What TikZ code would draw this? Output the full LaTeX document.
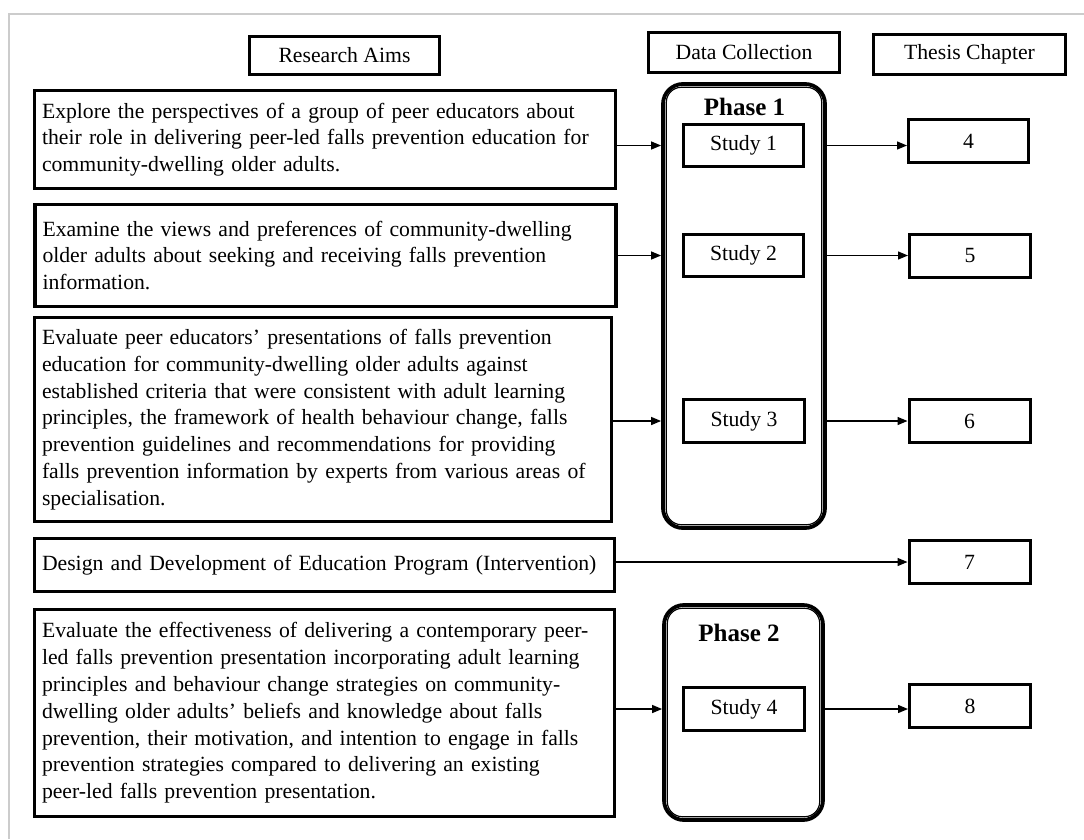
\documentclass[tikz,border=0pt]{standalone}
\usepackage{fontspec}
\setmainfont{Liberation Serif}
\usetikzlibrary{arrows.meta,calc}
\begin{document}
\begin{tikzpicture}[x=1pt,y=-1pt,
  every node/.style={font=\fontsize{21.7}{26.8}\selectfont},
  aim/.style={draw,line width=3.3pt,inner xsep=7.5pt,inner ysep=0pt,align=left,text width=566pt},
  hdr/.style={draw,line width=3pt,inner sep=0pt},
  studybox/.style={draw,line width=3pt,inner sep=0pt,minimum width=120pt,minimum height=42pt},
  chapbox/.style={draw,line width=3pt,inner sep=0pt,minimum width=121pt,minimum height=43pt},
  phasebox/.style={draw,line width=3.8pt,rounded corners=20pt,inner sep=0pt},
  phaseinner/.style={draw,line width=1.2pt,rounded corners=15pt},
  phaselabel/.style={font=\bfseries\fontsize{25}{30}\selectfont,inner sep=0pt},
  conn/.style={line width=1.3pt,-{Triangle[length=10pt,width=8pt]}}
]
\useasboundingbox (0,0) rectangle (1084,839);
% light frame
\coordinate (fbl) at (9,839);
\coordinate (ftl) at (9,14);
\coordinate (ftr) at (1084,14);
\draw[black!20,line width=1.5pt] (fbl) -- (ftl) -- (ftr);

% headers
\node[hdr,minimum width=190pt,minimum height=38pt] (RA) at (344.5,55.5) {Research Aims};
\node[hdr,minimum width=191pt,minimum height=40pt] (DC) at (744,52.5) {Data Collection};
\node[hdr,minimum width=192pt,minimum height=40pt] (TC) at (969.5,54.5) {Thesis Chapter};

% research aims
\node[aim,minimum height=98pt] (A1) at (325,139.5) {\makebox[\linewidth][s]{Explore the perspectives of a group of peer educators about}\\their role in delivering peer-led falls prevention education for\\community-dwelling older adults.};
\node[aim,minimum height=102pt] (A2) at (325.5,255.5) {Examine the views and preferences of community-dwelling\\older adults about seeking and receiving falls prevention\\information.};
\node[aim,text width=562pt,minimum height=204pt] (A3) at (323,419.5) {Evaluate peer educators’ presentations of falls prevention\\education for community-dwelling older adults against\\established criteria that were consistent with adult learning\\principles, the framework of health behaviour change, falls\\prevention guidelines and recommendations for providing\\falls prevention information by experts from various areas of\\specialisation.};
\node[aim,text width=565pt,minimum height=53pt] (A4) at (324.5,565) {\mbox{Design and Development of Education Program (Intervention)}};
\node[aim,text width=565pt,minimum height=207pt] (A5) at (324.5,713) {Evaluate the effectiveness of delivering a contemporary peer-\\led falls prevention presentation incorporating adult learning\\principles and behaviour change strategies on community-\\dwelling older adults’ beliefs and knowledge about falls\\prevention, their motivation, and intention to engage in falls\\prevention strategies compared to delivering an existing\\peer-led falls prevention presentation.};

% phases
\node[phasebox,minimum width=162pt,minimum height=444pt] (P1) at (744,306) {};
\draw[phaseinner] ($(P1.north west)+(5.2,5.2)$) rectangle ($(P1.south east)+(-5.2,-5.2)$);
\node[phaselabel] (P1L) at (744.5,107) {Phase 1};
\node[phasebox,minimum width=159pt,minimum height=215pt] (P2) at (743.5,712.5) {};
\draw[phaseinner] ($(P2.north west)+(5.2,5.2)$) rectangle ($(P2.south east)+(-5.2,-5.2)$);
\node[phaselabel] (P2L) at (739,633) {Phase 2};

% studies
\node[studybox] (S1) at (743.5,145.5) {Study 1};
\node[studybox] (S2) at (743.5,255.5) {Study 2};
\node[studybox,minimum width=121pt,minimum height=43pt] (S3) at (744,421) {Study 3};
\node[studybox,minimum width=121pt,minimum height=43pt] (S4) at (744,709) {Study 4};

% chapters
\node[chapbox,minimum width=120pt] (C4) at (968.5,141) {4};
\node[chapbox] (C5) at (970,255.5) {5};
\node[chapbox] (C6) at (969.5,421) {6};
\node[chapbox] (C7) at (969.5,562) {7};
\node[chapbox] (C8) at (970,706) {8};

% connectors
\draw[conn] (S1 -| A1.east) -- (S1 -| P1.west);
\draw[conn] (S2 -| A2.east) -- (S2 -| P1.west);
\draw[conn] (S3 -| A3.east) -- (S3 -| P1.west);
\draw[conn] (S4 -| A5.east) -- (S4 -| P2.west);
\draw[conn] (S1 -| P1.east) -- (S1 -| C4.west);
\draw[conn] (S2 -| P1.east) -- (S2 -| C5.west);
\draw[conn] (S3 -| P1.east) -- (S3 -| C6.west);
\draw[conn] (S4 -| P2.east) -- (S4 -| C8.west);
\draw[conn] (C7 -| A4.east) -- (C7.west);
\end{tikzpicture}
\end{document}
